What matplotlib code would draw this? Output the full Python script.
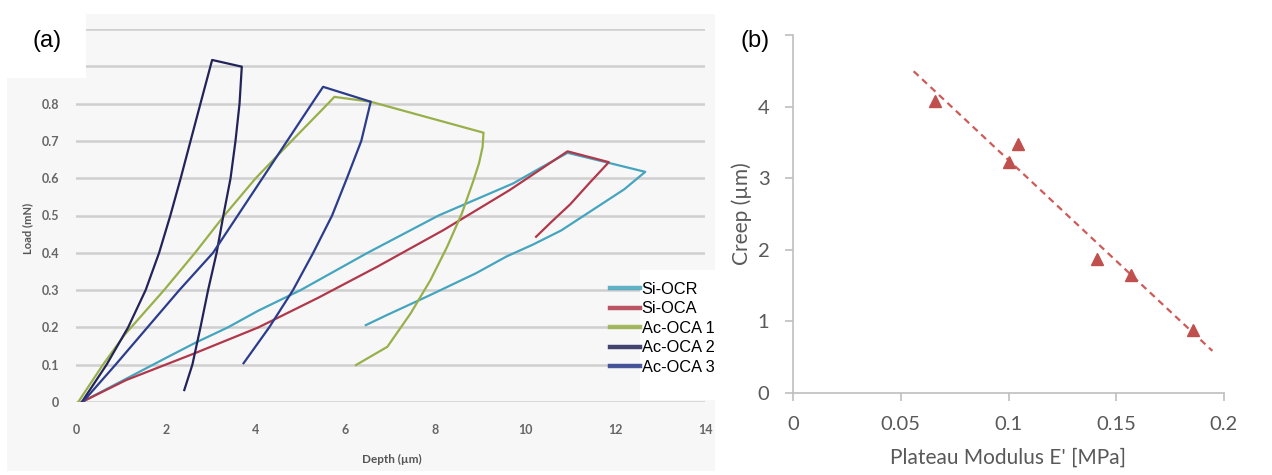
import numpy as np
import matplotlib
matplotlib.use("Agg")
import matplotlib.pyplot as plt
from matplotlib.patches import Rectangle
from matplotlib.lines import Line2D

# ---- panel (a): load-depth curves ----
si_ocr_depth = [0.13, 1.0, 2.0, 2.66, 3.38, 4.06, 5.0, 6.49, 8.07, 9.73, 10.3, 10.94,
                11.86, 12.67, 12.2, 11.5, 10.8, 10.17, 9.58, 8.9, 7.8, 6.9, 6.45]
si_ocr_load = [0.0, 0.055, 0.118, 0.159, 0.2, 0.245, 0.3, 0.4, 0.5, 0.586, 0.625, 0.668,
               0.641, 0.617, 0.57, 0.515, 0.46, 0.422, 0.39, 0.345, 0.282, 0.232, 0.206]

si_oca_depth = [0.13, 1.12, 2.63, 4.06, 5.4, 6.71, 8.18, 9.65, 10.94, 11.86, 11.45, 11.0,
                10.6, 10.24]
si_oca_load = [0.0, 0.059, 0.13, 0.2, 0.28, 0.363, 0.461, 0.568, 0.672, 0.643, 0.59, 0.53,
               0.485, 0.443]

ac_oca1_depth = [0.05, 0.6, 1.08, 1.96, 2.65, 3.3, 4.0, 4.8, 5.61, 5.75, 6.56, 9.07, 9.05,
                 8.97, 8.85, 8.59, 8.26, 7.89, 7.45, 6.93, 6.23]
ac_oca1_load = [0.0, 0.1, 0.18, 0.3, 0.4, 0.5, 0.6, 0.7, 0.8, 0.818, 0.805, 0.722, 0.684,
                0.64, 0.595, 0.506, 0.416, 0.327, 0.238, 0.148, 0.099]

ac_oca2_depth = [0.13, 0.68, 1.16, 1.55, 1.85, 2.10, 2.33, 2.55, 2.77, 3.03, 3.69, 3.64,
                 3.55, 3.44, 3.28, 3.13, 2.94, 2.77, 2.59, 2.41]
ac_oca2_load = [0.0, 0.1, 0.2, 0.3, 0.4, 0.5, 0.6, 0.7, 0.8, 0.917, 0.899, 0.8, 0.7, 0.6,
                0.5, 0.4, 0.3, 0.2, 0.1, 0.032]

ac_oca3_depth = [0.15, 0.88, 1.59, 2.3, 3.05, 3.6, 4.15, 4.7, 5.25, 5.5, 6.56, 6.35, 6.03,
                 5.7, 5.28, 4.83, 4.3, 3.73]
ac_oca3_load = [0.0, 0.1, 0.2, 0.3, 0.4, 0.5, 0.6, 0.7, 0.8, 0.845, 0.805, 0.7, 0.6, 0.5,
                0.4, 0.3, 0.2, 0.104]

series_names = ["Si-OCR", "Si-OCA", "Ac-OCA 1", "Ac-OCA 2", "Ac-OCA 3"]
series_colors = ["#45a5be", "#b0384a", "#98b04a", "#23235a", "#2b3c8c"]

# ---- panel (b): creep vs plateau modulus ----
modulus = [0.066, 0.100, 0.1044, 0.141, 0.157, 0.1856]
creep = [4.08, 3.23, 3.47, 1.87, 1.64, 0.88]

W, H = 1272, 475
fig = plt.figure(figsize=(W / 100, H / 100), dpi=100)


def box(x0, y0, x1, y1):
    # pixel box (top-left origin) -> figure fraction rect
    return [x0 / W, 1 - y1 / H, (x1 - x0) / W, (y1 - y0) / H]


# scanned-look background for panel (a)
r = box(7, 14, 715, 471)
fig.patches.append(Rectangle((r[0], r[1]), r[2], r[3], transform=fig.transFigure,
                             facecolor="#f7f7f7", edgecolor="none", zorder=-1))

ax = fig.add_axes(box(76, 29, 705, 402))
ax.set_facecolor("none")
curves = [(si_ocr_depth, si_ocr_load), (si_oca_depth, si_oca_load),
          (ac_oca1_depth, ac_oca1_load), (ac_oca2_depth, ac_oca2_load),
          (ac_oca3_depth, ac_oca3_load)]
for (d, l), c in zip(curves, series_colors):
    ax.plot(d, l, color=c, lw=1.6, solid_joinstyle="round", zorder=3)

ax.set_xlim(0, 14)
ax.set_ylim(0, 1.0)
ax.set_xticks(np.arange(0, 15, 2))
ax.set_yticks(np.arange(0, 1.01, 0.1))
ax.set_yticklabels(["0", "0.1", "0.2", "0.3", "0.4", "0.5", "0.6", "0.7", "0.8", "", ""])
ax.yaxis.grid(True, color="#cfcfcf", lw=1.8)
ax.set_axisbelow(True)
for s in ax.spines.values():
    s.set_visible(False)
ax.tick_params(length=0, labelcolor="#666666", labelsize=9)
ax.tick_params(axis="y", pad=12)
ax.tick_params(axis="x", pad=16)
for t in ax.get_xticklabels() + ax.get_yticklabels():
    t.set_fontfamily("Lato")
    t.set_fontweight("bold")
fig.text(28 / W, 1 - 228 / H, "Load (mN)", rotation=90, ha="center", va="center",
         fontsize=8, fontweight="bold", color="#555555", family="Lato")
fig.text(392 / W, 1 - 459 / H, "Depth (\u00b5m)", ha="center", va="center",
         fontsize=8.5, fontweight="bold", color="#555555", family="Lato")

# white corner with the panel letter
r = box(0, 0, 86, 78)
fig.patches.append(Rectangle((r[0], r[1]), r[2], r[3], transform=fig.transFigure,
                             facecolor="white", edgecolor="none", zorder=2))
fig.text(47 / W, 1 - 41 / H, "(a)", ha="center", va="center", fontsize=17,
         family="Liberation Sans", zorder=3)

# legend on a white patch, line keys hanging out to the left
r = box(640, 270, 722, 400)
fig.patches.append(Rectangle((r[0], r[1]), r[2], r[3], transform=fig.transFigure,
                             facecolor="white", edgecolor="none", zorder=2))
handles = [Line2D([], [], color=c, lw=3.2, alpha=0.85) for c in series_colors]
leg = fig.legend(handles, series_names, loc="upper left",
                 bbox_to_anchor=(610 / W, 1 - 282 / H), frameon=False,
                 prop={"family": "Liberation Sans", "size": 11.8},
                 handlelength=1.85, handletextpad=0.08, labelspacing=0.27,
                 borderpad=0, borderaxespad=0)
leg.set_zorder(5)

# ---- panel (b) ----
bx = fig.add_axes(box(793, 35, 1224, 392.7))
bx.plot(modulus, creep, linestyle="none", marker="^", markersize=8.5,
        color="#c0504d", zorder=3)
k, b0 = np.polyfit(modulus, creep, 1)
xf = np.array([min(modulus) - 0.01, max(modulus) + 0.009])
bx.plot(xf, k * xf + b0, color="#cf5b58", lw=1.6, dashes=(3, 2.2), zorder=2)

bx.set_xlim(0, 0.2)
bx.set_ylim(0, 5)
bx.set_xticks([0, 0.05, 0.1, 0.15, 0.2])
bx.set_xticklabels(["0", "0.05", "0.1", "0.15", "0.2"])
bx.set_yticks([0, 1, 2, 3, 4, 5])
bx.set_yticklabels(["0", "1", "2", "3", "4", ""])
for side in ["top", "right"]:
    bx.spines[side].set_visible(False)
for side in ["left", "bottom"]:
    bx.spines[side].set_color("#bfbfbf")
    bx.spines[side].set_linewidth(1.2)
bx.tick_params(direction="out", length=6, width=1.2, color="#bfbfbf",
               labelcolor="#595959", labelsize=14.5, pad=11)
for t in bx.get_xticklabels() + bx.get_yticklabels():
    t.set_fontfamily("Lato")
bx.set_xlabel("Plateau Modulus E' [MPa]", fontsize=15, color="#595959", family="Lato",
              labelpad=10)
bx.set_ylabel("Creep (\u00b5m)", fontsize=15, color="#595959", family="Lato", labelpad=4)
fig.text(755 / W, 1 - 41 / H, "(b)", ha="center", va="center", fontsize=17,
         family="Liberation Sans")

fig.savefig("out.png", dpi=100)
